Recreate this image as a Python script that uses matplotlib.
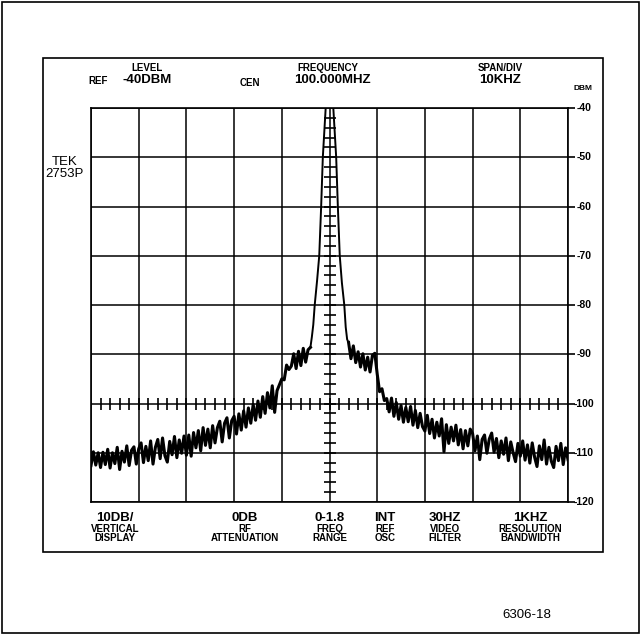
import numpy as np
import matplotlib
matplotlib.use("Agg")
import matplotlib.pyplot as plt
from matplotlib.patches import Rectangle

W, H = 644, 636
FONT = ['Liberation Sans', 'DejaVu Sans']

# frequency offset from centre (kHz) and level (dBm)
left_khz = [-50 + 0.5 * i for i in range(93)]
left_dbm = [
    -112.6, -109.8, -112.5, -110.0, -113.0, -109.9, -112.4, -109.3, -113.1, -110.0,
    -112.2, -108.9, -113.4, -109.7, -111.9, -108.6, -112.6, -109.5, -108.8, -112.3, -109.2,
    -108.0, -112.0, -108.7, -111.6, -107.6, -112.3, -108.9, -107.3, -111.2, -107.0,
    -110.6, -111.9, -107.7, -110.4, -106.7, -111.0, -107.4, -110.1, -106.6, -110.5,
    -106.4, -110.7, -105.9, -109.0, -105.5, -109.6, -104.9, -108.5, -105.2, -109.0,
    -104.5, -108.0, -104.9, -103.6, -107.8, -104.0, -102.9, -107.0, -103.5, -102.6,
    -106.2, -102.1, -105.4, -101.5, -104.8, -100.9, -104.0, -100.2, -103.4, -99.5,
    -102.8, -98.6, -102.0, -97.8, -100.9, -96.4, -101.8, -97.4, -96.2, -95.0,
    -95.2, -92.2, -93.1, -92.4, -89.9, -92.9, -89.4, -92.3, -88.8, -91.6, -89.1, -88.6,
]

peak_khz = [-3.7, -3.4, -3.1, -2.6, -2.15, -1.75, -1.4, -1.1, -0.8, -0.4, 0.0,
            0.4, 0.8, 1.1, 1.4, 1.75, 2.15, 2.6, 3.1, 3.4, 3.7]
peak_dbm = [-86.5, -84.0, -80.0, -75.0, -70.0, -60.0, -50.0, -45.0, -40.0, -34.0, -32.0,
            -34.0, -40.0, -45.0, -50.0, -60.0, -70.0, -75.5, -80.0, -84.5, -87.0]

right_khz = [4.0 + 0.5 * i for i in range(93)]
right_dbm = [
    -87.6, -90.9, -88.3, -91.7, -89.5, -92.6, -89.9, -93.2, -90.6, -93.6, -90.2, -89.8,
    -94.0, -97.6, -97.0, -99.4, -99.0, -101.7, -98.9, -102.6, -99.8, -103.2,
    -100.4, -103.8, -100.8, -103.7, -100.6, -104.4, -101.4, -104.9, -102.0, -104.7,
    -105.6, -102.4, -106.1, -103.2, -107.0, -103.8, -106.6, -103.1, -109.8, -104.3,
    -108.1, -104.8, -107.6, -104.4, -108.4, -105.3, -109.2, -105.5, -108.6, -105.2,
    -106.1, -109.6, -106.6, -111.4, -107.3, -106.4, -110.1, -107.2, -106.0, -109.9,
    -107.1, -111.0, -107.6, -110.3, -107.0, -111.6, -107.8, -110.0, -111.8, -108.1,
    -110.7, -107.6, -111.5, -108.4, -112.1, -108.0, -110.9, -112.8, -108.6, -111.4,
    -107.4, -112.3, -108.9, -111.7, -113.0, -108.7, -111.6, -108.1, -112.4, -109.0, -111.4,
]

db_ticks = [-40, -50, -60, -70, -80, -90, -100, -110, -120]

top_small = [("LEVEL", 147), ("FREQUENCY", 328), ("SPAN/DIV", 500)]
top_big = [("-40DBM", 147), ("100.000MHZ", 332), ("10KHZ", 500)]
bottom_big = ["10DB/", "0DB", "0-1.8", "INT", "30HZ", "1KHZ"]
bottom_mid = ["VERTICAL", "RF", "FREQ", "REF", "VIDEO", "RESOLUTION"]
bottom_low = ["DISPLAY", "ATTENUATION", "RANGE", "OSC", "FILTER", "BANDWIDTH"]
bottom_x = [115, 245, 330, 385, 445, 530]


def px(x, y):
    return x / W, 1 - y / H


fig = plt.figure(figsize=(W / 100, H / 100), dpi=100)

# outer and inner frames
fig.patches.append(Rectangle(px(2, 633), 637 / W, 631 / H, transform=fig.transFigure,
                             fill=False, lw=1.2, ec='black'))
fig.patches.append(Rectangle(px(43, 552), 560 / W, 494 / H, transform=fig.transFigure,
                             fill=False, lw=1.2, ec='black'))

l, b = px(91, 502)
ax = fig.add_axes([l, b, 477 / W, 394 / H])
ax.set_xlim(-50, 50)
ax.set_ylim(-120, -40)
ax.set_xticks(np.arange(-50, 51, 10))
ax.set_yticks(db_ticks)
ax.grid(True, color='black', lw=1.1)
for s in ax.spines.values():
    s.set_linewidth(1.2)
ax.tick_params(axis='x', bottom=False, labelbottom=False)
ax.tick_params(axis='y', left=False, labelleft=False, right=True, direction='out',
               length=5, width=1.2, color='black')

# minor cross ticks on centre line and -100 line
ax.plot([0] * 39, np.arange(-118, -40, 2), ls='none', marker='_', ms=9, mew=1.2, color='black', clip_on=False)
ax.plot(np.arange(-48, 50, 2), [-100] * 49, ls='none', marker='|', ms=8, mew=1.2, color='black', clip_on=False)

ax.plot(left_khz, left_dbm, color='black', lw=2.2)
ax.plot(right_khz, right_dbm, color='black', lw=2.2)
ax.plot([left_khz[-1]] + peak_khz + [right_khz[0]], [left_dbm[-1]] + peak_dbm + [right_dbm[0]],
        color='black', lw=1.4)

for v in db_ticks:
    ax.text(1.0335, v, str(v), transform=ax.get_yaxis_transform(), ha='center', va='center',
            fontsize=7.5, fontweight='bold', family=FONT)
fig.text(*px(583, 89), "DBM", ha='center', va='center', fontsize=6, fontweight='bold', family=FONT)

# header
for t, x in top_small:
    fig.text(*px(x, 68), t, ha='center', va='center', fontsize=7, fontweight='bold', family=FONT)
for t, x in top_big:
    fig.text(*px(x, 80), t, ha='center', va='center', fontsize=9.5, fontweight='bold', family=FONT)
fig.text(*px(98, 81), "REF", ha='center', va='center', fontsize=7, fontweight='bold', family=FONT)
fig.text(*px(250, 83), "CEN", ha='center', va='center', fontsize=7, fontweight='bold', family=FONT)

fig.text(*px(65, 168), "TEK\n2753P", ha='center', va='center', fontsize=9.5, linespacing=0.95,
         family=FONT)

# footer
for i, x in enumerate(bottom_x):
    fig.text(*px(x, 518), bottom_big[i], ha='center', va='center', fontsize=9.5, fontweight='bold', family=FONT)
    fig.text(*px(x, 529), bottom_mid[i], ha='center', va='center', fontsize=7, fontweight='bold', family=FONT)
    fig.text(*px(x, 538), bottom_low[i], ha='center', va='center', fontsize=7, fontweight='bold', family=FONT)

fig.text(*px(527, 615), "6306-18", ha='center', va='center', fontsize=9.5, family=FONT)

fig.savefig("out.png", dpi=100)
